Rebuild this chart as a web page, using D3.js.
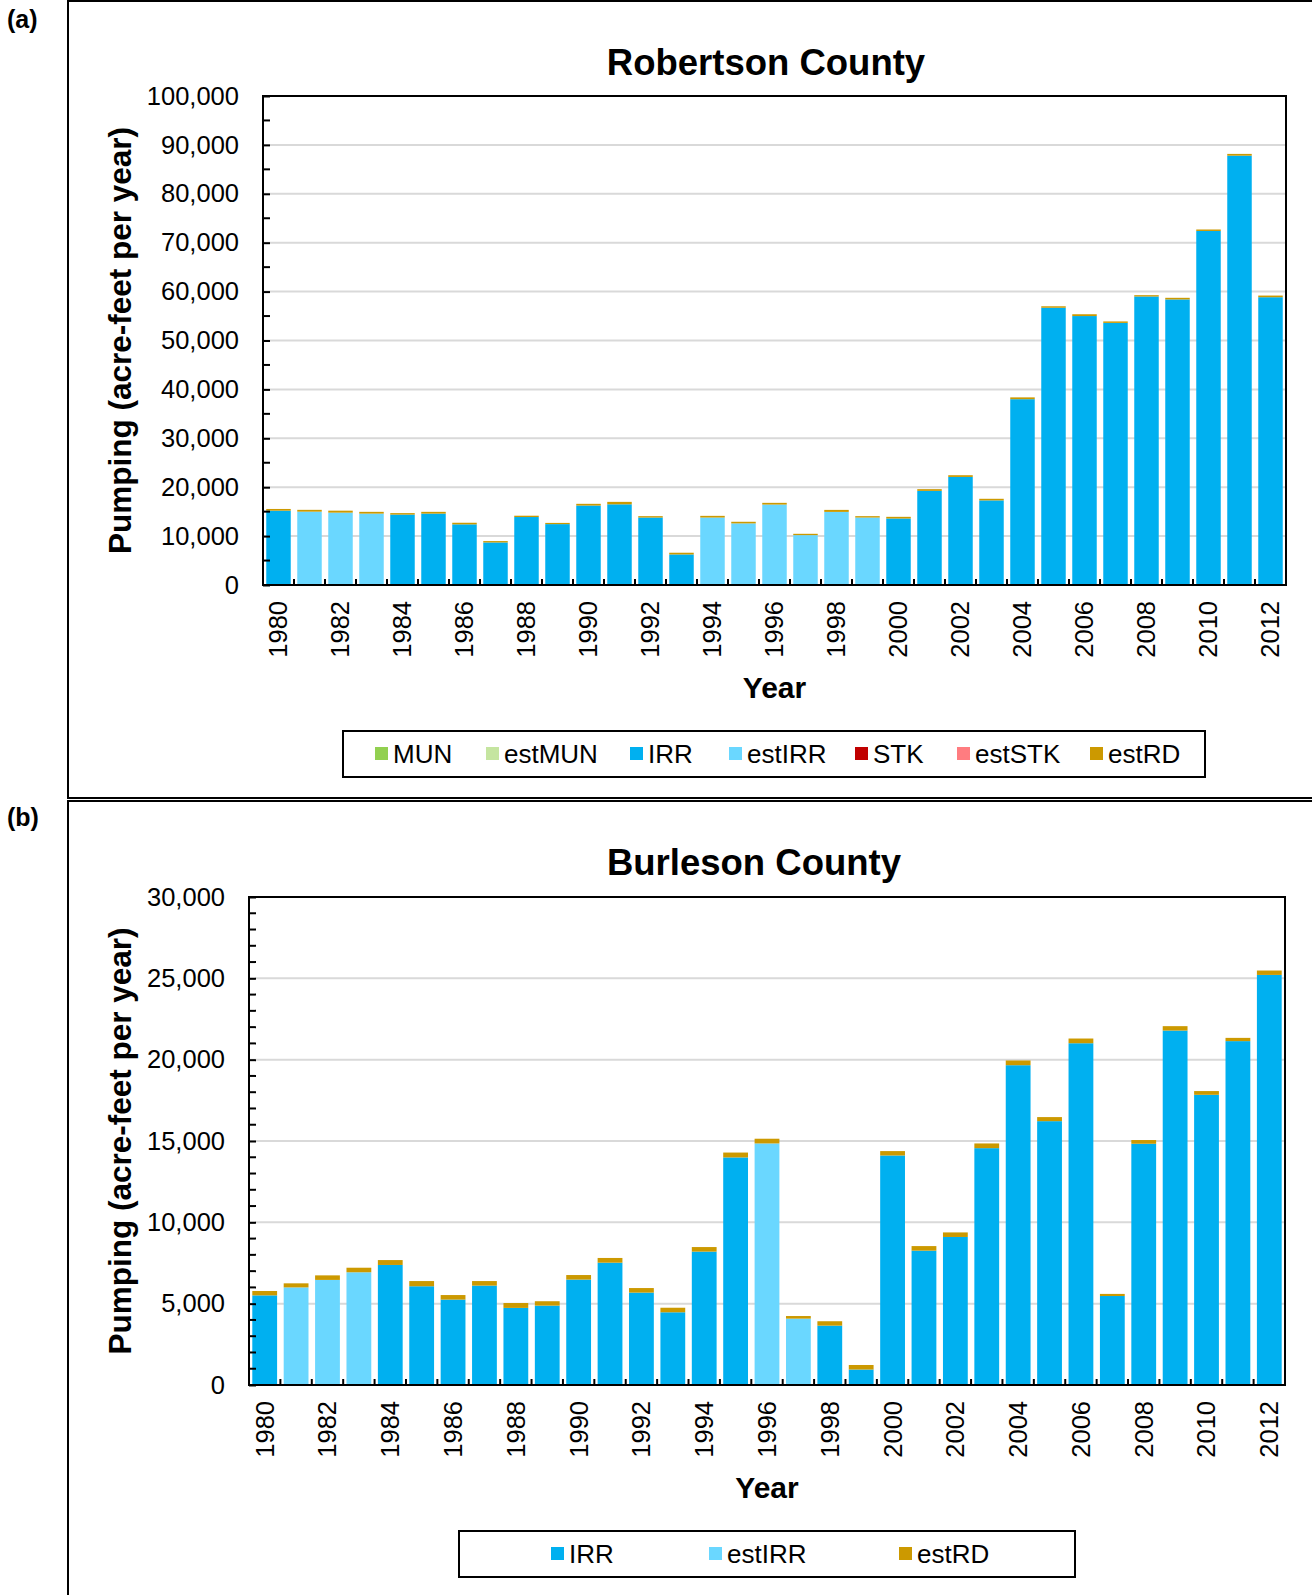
<!DOCTYPE html>
<html>
<head>
<meta charset="utf-8">
<script src="https://cdn.jsdelivr.net/npm/d3@7"></script>
<style>
    body { margin: 0; background: #fff; }
    svg { display: block; font-family: "Liberation Sans", Arial, sans-serif; }
</style>
</head>
<body>
<div id="chart"></div>
<script>
// ---------- Data (acre-feet per year) ----------
const years = [1980, 1981, 1982, 1983, 1984, 1985, 1986, 1987, 1988, 1989, 1990, 1991, 1992, 1993, 1994, 1995, 1996,
    1997, 1998, 1999, 2000, 2001, 2002, 2003, 2004, 2005, 2006, 2007, 2008, 2009, 2010, 2011, 2012];

// Robertson County
const robMun = [0, 0, 0, 0, 0, 0, 0, 0, 0, 0, 0, 0, 0, 0, 0, 0, 0, 0, 0, 0, 0, 0, 0, 0, 0, 0, 0, 0, 0, 0, 0, 0, 150];
const robIrr = [15200, 0, 0, 0, 14400, 14600, 12400, 8700, 13900, 12450, 16250, 16500, 13800, 6250, 0, 0, 0, 0, 0, 0,
    13600, 19250, 22100, 17300, 38000, 56700, 55000, 53600, 59000, 58400, 72400, 87800, 58700];
const robEstIrr = [0, 15000, 14800, 14600, 0, 0, 0, 0, 0, 0, 0, 0, 0, 0, 13800, 12600, 16450, 10200, 14950, 13800,
    0, 0, 0, 0, 0, 0, 0, 0, 0, 0, 0, 0, 0];
const robEstRd = [350, 370, 400, 360, 300, 360, 330, 280, 270, 250, 350, 500, 280, 350, 340, 330, 350, 270, 410, 280,
    340, 350, 350, 330, 370, 300, 370, 300, 270, 330, 300, 360, 340];
const robTicks = [0, 10000, 20000, 30000, 40000, 50000, 60000, 70000, 80000, 90000, 100000];

// Burleson County
const burIrr = [5510, 0, 0, 0, 7380, 6070, 5250, 6110, 4740, 4880, 6480, 7520, 5680, 4470, 8200, 13990, 0, 0,
    3650, 950, 14110, 8260, 9100, 14560, 19660, 16220, 21010, 5470, 14830, 21790, 17840, 21140, 25210];
const burEstIrr = [0, 6000, 6460, 6930, 0, 0, 0, 0, 0, 0, 0, 0, 0, 0, 0, 0, 14850, 4080,
    0, 0, 0, 0, 0, 0, 0, 0, 0, 0, 0, 0, 0, 0, 0];
const burEstRd = [270, 250, 280, 280, 300, 320, 280, 280, 300, 270, 280, 290, 280, 280, 280, 300, 290, 160,
    270, 280, 270, 280, 280, 290, 290, 250, 290, 130, 230, 270, 230, 200, 270];
const burTicks = [0, 5000, 10000, 15000, 20000, 25000, 30000];

const colors = {
    MUN: "#92D050", estMUN: "#C5E5A0", IRR: "#00B0F0", estIRR: "#6AD7FF",
    STK: "#C00000", estSTK: "#FF7C80", estRD: "#CC9900"
};

const W = 1312, H = 1595;
const svg = d3.select("#chart").append("svg").attr("width", W).attr("height", H);
svg.append("rect").attr("width", W).attr("height", H).attr("fill", "#fff");

// panel frames
svg.append("rect").attr("x", 68).attr("y", 1).attr("width", 1300).attr("height", 797)
    .attr("fill", "none").attr("stroke", "#000").attr("stroke-width", 2);
svg.append("rect").attr("x", 68).attr("y", 801).attr("width", 1300).attr("height", 850)
    .attr("fill", "none").attr("stroke", "#000").attr("stroke-width", 2);
svg.append("text").attr("x", 7).attr("y", 28).attr("font-size", 25).attr("font-weight", "bold").text("(a)");
svg.append("text").attr("x", 7).attr("y", 826).attr("font-size", 25).attr("font-weight", "bold").text("(b)");

drawChart({
    title: "Robertson County", titleX: 766, titleY: 75,
    left: 263, right: 1286, top: 96, bottom: 585,
    max: 100000, ticks: robTicks, minorStep: 5000,
    rows: years.map((y, i) => ({year: y, MUN: robMun[i], IRR: robIrr[i], estIRR: robEstIrr[i], estRD: robEstRd[i]})),
    keys: ["MUN", "IRR", "estIRR", "estRD"],
    yTitleX: 120, xTitleY: 698,
    legendBox: [343, 731, 862, 46], legendY: 754,
    legendKeys: ["MUN", "estMUN", "IRR", "estIRR", "STK", "estSTK", "estRD"],
    legendX: [375, 486, 630, 729, 855, 957, 1090]
});

drawChart({
    title: "Burleson County", titleX: 754, titleY: 875,
    left: 249, right: 1285, top: 897, bottom: 1385,
    max: 30000, ticks: burTicks, minorStep: 1000,
    rows: years.map((y, i) => ({year: y, IRR: burIrr[i], estIRR: burEstIrr[i], estRD: burEstRd[i]})),
    keys: ["IRR", "estIRR", "estRD"],
    yTitleX: 120, xTitleY: 1498,
    legendBox: [459, 1531, 616, 46], legendY: 1554,
    legendKeys: ["IRR", "estIRR", "estRD"],
    legendX: [551, 709, 899]
});

function drawChart(c) {
    const g = svg.append("g");
    const x = d3.scaleBand().domain(years).range([c.left, c.right]).paddingInner(0.21).paddingOuter(0.105);
    const y = d3.scaleLinear().domain([0, c.max]).range([c.bottom, c.top]);

    // gridlines
    g.append("g").selectAll("line").data(c.ticks.slice(1)).join("line")
        .attr("x1", c.left).attr("x2", c.right)
        .attr("y1", d => y(d)).attr("y2", d => y(d))
        .attr("stroke", "#D9D9D9").attr("stroke-width", 2);

    // stacked bars
    const series = d3.stack().keys(c.keys)(c.rows);
    g.append("g").selectAll("g").data(series).join("g")
        .attr("fill", d => colors[d.key])
        .selectAll("rect").data(d => d.filter(p => p[1] > p[0])).join("rect")
        .attr("x", d => x(d.data.year))
        .attr("width", x.bandwidth())
        .attr("y", d => y(d[1]))
        .attr("height", d => y(d[0]) - y(d[1]));

    // plot frame
    g.append("rect").attr("x", c.left).attr("y", c.top)
        .attr("width", c.right - c.left).attr("height", c.bottom - c.top)
        .attr("fill", "none").attr("stroke", "#000").attr("stroke-width", 2);

    // y axis with inside ticks
    const yAxis = g.append("g").attr("transform", `translate(${c.left},0)`)
        .call(d3.axisLeft(y).tickValues(c.ticks).tickSize(-7).tickPadding(24).tickFormat(d3.format(",")));
    yAxis.select(".domain").remove();
    yAxis.selectAll(".tick line").attr("stroke", "#000").attr("stroke-width", 2);
    yAxis.selectAll("text").attr("font-size", 25.5).attr("fill", "#000")
        .attr("font-family", "Liberation Sans, Arial, sans-serif");
    const minor = d3.range(0, c.max, c.minorStep).filter(v => !c.ticks.includes(v));
    g.append("g").selectAll("line").data(minor).join("line")
        .attr("x1", c.left).attr("x2", c.left + 7)
        .attr("y1", d => y(d)).attr("y2", d => y(d))
        .attr("stroke", "#000").attr("stroke-width", 2);

    // x ticks at category boundaries, pointing up
    const step = x.step();
    g.append("g").selectAll("line").data(years.slice(1)).join("line")
        .attr("x1", d => x(d) - (step - x.bandwidth()) / 2).attr("x2", d => x(d) - (step - x.bandwidth()) / 2)
        .attr("y1", c.bottom).attr("y2", c.bottom - 6)
        .attr("stroke", "#000").attr("stroke-width", 2);

    // year labels every 2 years
    g.append("g").selectAll("text").data(years.filter((d, i) => i % 2 === 0)).join("text")
        .attr("transform", d => `translate(${x(d) + x.bandwidth() / 2},${c.bottom + 16}) rotate(-90)`)
        .attr("text-anchor", "end").attr("dy", "0.35em")
        .attr("font-size", 25.5).text(d => d);

    // titles
    g.append("text").attr("x", c.titleX).attr("y", c.titleY).attr("text-anchor", "middle")
        .attr("font-size", 36.5).attr("font-weight", "bold").text(c.title);
    g.append("text").attr("transform", `translate(${c.yTitleX},${(c.top + c.bottom) / 2}) rotate(-90)`)
        .attr("text-anchor", "middle").attr("dy", "0.35em")
        .attr("font-size", 31.5).attr("font-weight", "bold").text("Pumping (acre-feet per year)");
    g.append("text").attr("x", (c.left + c.right) / 2).attr("y", c.xTitleY).attr("text-anchor", "middle")
        .attr("font-size", 30).attr("font-weight", "bold").text("Year");

    // legend
    const [lx, ly, lw, lh] = c.legendBox;
    g.append("rect").attr("x", lx).attr("y", ly).attr("width", lw).attr("height", lh)
        .attr("fill", "#fff").attr("stroke", "#000").attr("stroke-width", 2);
    const items = g.append("g").selectAll("g").data(c.legendKeys).join("g")
        .attr("transform", (d, i) => `translate(${c.legendX[i]},${c.legendY})`);
    items.append("rect").attr("x", 0).attr("y", -7).attr("width", 13).attr("height", 13)
        .attr("fill", d => colors[d]);
    items.append("text").attr("x", 18).attr("dy", "0.36em").attr("font-size", 26).text(d => d);
}
</script>
</body>
</html>
